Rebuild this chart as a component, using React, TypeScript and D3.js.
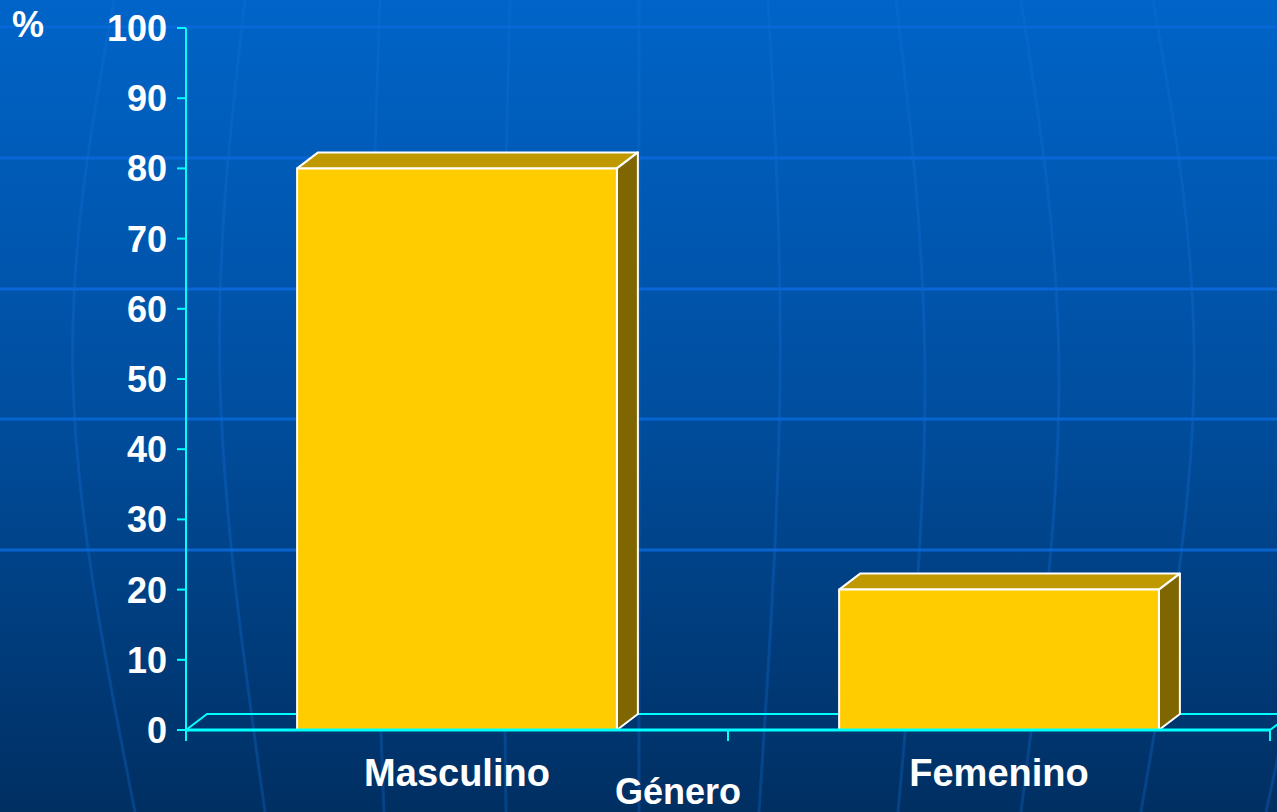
import React from "react";
import * as d3 from "d3";

const categories = ["Masculino", "Femenino"];
const values = [80, 20];
const yTicks = [0, 10, 20, 30, 40, 50, 60, 70, 80, 90, 100];
const yAxisUnit = "%";
const xAxisTitle = "Género";

// decorative background meridians: x at top, middle, bottom
const meridians: [number, number, number][] = [
  [114, 73, 135],
  [245, 220, 265],
  [380, 372, 384],
  [510, 503, 506],
  [639, 639, 639],
  [768, 780, 759],
  [896, 925, 898],
  [1021, 1059, 1021],
  [1153, 1194, 1141],
  [1292, 1335, 1266],
];
const bgLines = [27, 158, 289, 419, 550];

const W = 1277;
const H = 812;
const left = 186;
const right = 1270;
const top = 28;
const bottom = 730;
const DX = 21;
const DY = 16;

export default function App() {
  const x = d3.scaleBand<string>().domain(categories).range([left, right]).padding(0);
  const y = d3.scaleLinear().domain([0, 100]).range([bottom, top]);
  const barW = x.bandwidth() * 0.59;
  const font = "'Liberation Sans', Arial, sans-serif";
  const mLine = d3
    .line<[number, number]>()
    .x((d) => d[0])
    .y((d) => d[1])
    .curve(d3.curveNatural);

  return (
    <svg
      width={W}
      height={H}
      style={{ position: "absolute", left: 0, top: 0, display: "block" }}
    >
      <defs>
        <linearGradient id="bg" x1="0" y1="0" x2="0" y2="1">
          <stop offset="0" stopColor="#0064C8" />
          <stop offset="0.5" stopColor="#004E9F" />
          <stop offset="1" stopColor="#002F62" />
        </linearGradient>
      </defs>
      <rect x={0} y={0} width={W} height={H} fill="url(#bg)" />
      {meridians.map((m, i) => (
        <path
          key={"m" + i}
          d={mLine([
            [m[0], 0],
            [m[1], 380],
            [m[2], H],
          ]) || ""}
          fill="none"
          stroke="#1570D8"
          strokeOpacity={0.3}
          strokeWidth={3}
        />
      ))}
      {bgLines.map((ly, i) => (
        <line
          key={"h" + i}
          x1={0}
          x2={W}
          y1={ly}
          y2={ly}
          stroke="#0A68D8"
          strokeOpacity={0.9}
          strokeWidth={3}
        />
      ))}

      {/* floor */}
      <polyline
        points={`${left},${bottom} ${left + DX},${bottom - DY} ${right + DX},${bottom - DY} ${right},${bottom}`}
        fill="none"
        stroke="#00FFFF"
        strokeWidth={2}
      />

      {/* bars */}
      {categories.map((c, i) => {
        const x0 = (x(c) as number) + (x.bandwidth() - barW) / 2;
        const x1 = x0 + barW;
        const yt = y(values[i]);
        const yb = y(0);
        return (
          <g key={c} stroke="#FFFFFF" strokeWidth={2} strokeLinejoin="round">
            <polygon
              points={`${x0},${yt} ${x0 + DX},${yt - DY} ${x1 + DX},${yt - DY} ${x1},${yt}`}
              fill="#C09900"
            />
            <polygon
              points={`${x1},${yt} ${x1 + DX},${yt - DY} ${x1 + DX},${yb - DY} ${x1},${yb}`}
              fill="#806600"
            />
            <rect x={x0} y={yt} width={barW} height={yb - yt} fill="#FFCC00" />
          </g>
        );
      })}

      {/* x axis */}
      <line x1={left} x2={right} y1={bottom} y2={bottom} stroke="#00FFFF" strokeWidth={3} />
      {[...categories.map((c) => x(c) as number), right].map((tx, i) => (
        <line key={"xt" + i} x1={tx} x2={tx} y1={bottom} y2={bottom + 11} stroke="#00FFFF" strokeWidth={2} />
      ))}
      {categories.map((c) => (
        <text
          key={"xl" + c}
          x={(x(c) as number) + x.bandwidth() / 2}
          y={786}
          textAnchor="middle"
          fill="#FFFFFF"
          fontFamily={font}
          fontWeight="bold"
          fontSize={38}
        >
          {c}
        </text>
      ))}
      <text x={678} y={804} textAnchor="middle" fill="#FFFFFF" fontFamily={font} fontWeight="bold" fontSize={36}>
        {xAxisTitle}
      </text>

      {/* y axis */}
      <line x1={left} x2={left} y1={top} y2={bottom + 11} stroke="#00FFFF" strokeWidth={2} />
      {yTicks.map((t) => (
        <g key={"yt" + t}>
          <line x1={left - 9} x2={left} y1={y(t)} y2={y(t)} stroke="#00FFFF" strokeWidth={2} />
          <text
            x={167}
            y={y(t) + 13}
            textAnchor="end"
            fill="#FFFFFF"
            fontFamily={font}
            fontWeight="bold"
            fontSize={36}
          >
            {t}
          </text>
        </g>
      ))}
      <text x={12} y={37} fill="#FFFFFF" fontFamily={font} fontWeight="bold" fontSize={36}>
        {yAxisUnit}
      </text>
    </svg>
  );
}
